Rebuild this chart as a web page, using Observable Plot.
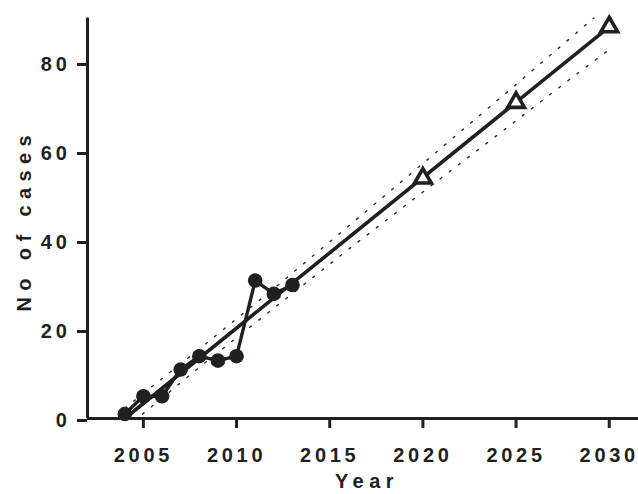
<!DOCTYPE html>
<html><head><meta charset="utf-8">
<script src="https://cdn.jsdelivr.net/npm/d3@7"></script>
<script src="https://cdn.jsdelivr.net/npm/@observablehq/plot@0.6"></script>
<style>
html,body{margin:0;padding:0;background:#fff}
</style>
</head><body><div id="chart"></div>
<script>
// Observed cases
const years = [2004, 2005, 2006, 2007, 2008, 2009, 2010, 2011, 2012, 2013];
const cases = [1, 5, 5, 11, 14, 13, 14, 31, 28, 30];
// Projected cases
const projYears = [2020, 2025, 2030];
const projCases = [54, 71, 88];
// Fitted trend line
const fitYears = [2004, 2030];
const fitCases = [0, 88];
// Dotted band
const bandYears = [2004, 2008, 2012, 2016, 2020, 2024, 2028, 2030];
const bandUpper = [2.3, 15.6, 29.2, 43.2, 57.3, 71.5, 85.8, 93.0];
const bandLower = [-2.3, 11.5, 24.8, 38.0, 50.9, 63.7, 76.6, 82.9];
// Ticks
const xTicks = [2005, 2010, 2015, 2020, 2025, 2030];
const yTicks = [0, 20, 40, 60, 80];
const xLabel = "Year";
const yLabel = "No of cases";

const font = {family: "'Liberation Sans', Arial, sans-serif", size: 20, tick: 3.7, title: 6.4, xt: 5.5};

const obs = years.map((x, i) => ({x, y: cases[i]}));
const proj = projYears.map((x, i) => ({x, y: projCases[i]}));
const fit = fitYears.map((x, i) => ({x, y: fitCases[i]}));
const upper = bandYears.map((x, i) => ({x, y: bandUpper[i]}));
const lower = bandYears.map((x, i) => ({x, y: bandLower[i]}));

const ink = "#231f20";

const chart = Plot.plot({
  width: 638,
  height: 494,
  marginLeft: 87,
  marginRight: -8,
  marginTop: 17.5,
  marginBottom: 76,
  style: {fontFamily: font.family, fontSize: font.size + "px", fontWeight: "bold", color: ink, background: "#fff"},
  x: {domain: [2002, 2032], range: [87, 646]},
  y: {domain: [0, 90]},
  marks: [
    Plot.line(upper, {x: "x", y: "y", stroke: "#2a2a2a", strokeWidth: 1.4, strokeDasharray: "2,9.5", clip: true}),
    Plot.line(lower, {x: "x", y: "y", stroke: "#2a2a2a", strokeWidth: 1.4, strokeDasharray: "2,9.5", clip: true}),
    Plot.axisY({ticks: yTicks, tickSize: 10, tickPadding: 7, tickFormat: d => String(d), label: null, strokeWidth: 3, dy: 2}),
    Plot.axisX({ticks: xTicks, tickSize: 10, tickPadding: 19, tickFormat: d => String(d), label: null, strokeWidth: 3}),
    Plot.ruleX([2002], {y1: 0, y2: 90, stroke: ink, strokeWidth: 3}),
    Plot.ruleY([0], {x1: 2002, x2: 2032, stroke: ink, strokeWidth: 3}),
    Plot.line(fit, {x: "x", y: "y", stroke: ink, strokeWidth: 3.6}),
    Plot.line(obs, {x: "x", y: "y", stroke: ink, strokeWidth: 3.4}),
    Plot.dot(obs, {x: "x", y: "y", r: 7.3, fill: ink, stroke: "none"}),
    Plot.dot(proj, {x: "x", y: "y", r: 6.2, symbol: "triangle", fill: "white", stroke: ink, strokeWidth: 3.6}),
    Plot.text([yLabel], {text: d => d, frameAnchor: "left", dx: -63, dy: 2, rotate: -90, textAnchor: "middle", lineAnchor: "middle", fill: ink}),
    Plot.text([xLabel], {text: d => d, frameAnchor: "bottom", dy: 63, textAnchor: "middle", lineAnchor: "middle", fill: ink})
  ]
});
document.getElementById("chart").appendChild(chart);
d3.select(chart).selectAll("text").each(function() {
  const t = this.textContent;
  const ls = t === yLabel ? font.title : t === xLabel ? font.xt : font.tick;
  this.style.letterSpacing = ls + "px";
});
</script>
</body></html>
